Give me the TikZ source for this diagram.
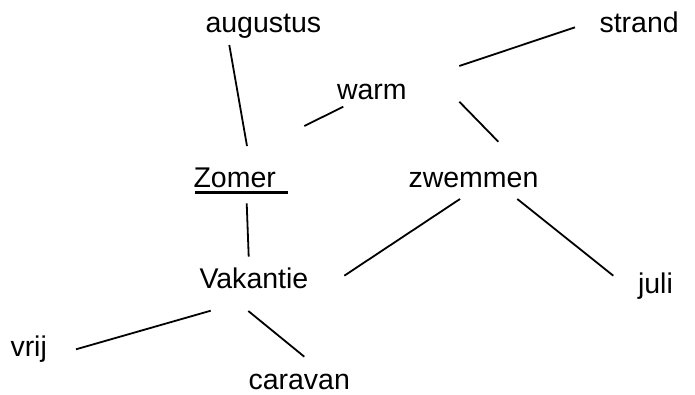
\documentclass[tikz,border=0pt]{standalone}
\usepackage{fontspec}
\setmainfont{Liberation Sans}
\begin{document}
\begin{tikzpicture}[x=1pt,y=-1pt,
  word/.style={anchor=base west,inner sep=0pt,outer sep=0pt,font=\fontsize{28.5}{34}\selectfont},
  link/.style={line width=1.8pt,black}]
\useasboundingbox (0,0) rectangle (695,394);
% words
\node[word] (augustus) at (205.5,32) {augustus};
\node[word] (strand)   at (599.5,32) {strand};
\node[word] (warm)     at (337,99) {warm};
\node[word] (zomer)    at (193.5,187.5) {Zomer};
\node[word] (zwemmen)  at (408.5,187) {zwemmen};
\node[word] (vakantie) at (199.5,288.3) {Vakantie};
\node[word] (juli)     at (638,293) {juli};
\node[word] (vrij)     at (10.5,356) {vrij};
\node[word] (caravan)  at (248.5,389.3) {caravan};
% underline of Zomer (with trailing space)
\draw[line width=2.6pt] ([yshift=-4.8pt]zomer.base west) ++(1.5,0) -- ++(93,0);
% connector end points
\coordinate (a1) at (229.3,45);   \coordinate (a2) at (247,146);
\coordinate (w1) at (304.3,126);  \coordinate (w2) at (343.3,106.7);
\coordinate (s1) at (459.3,66);   \coordinate (s2) at (575,27.3);
\coordinate (z1) at (459.3,101.7);\coordinate (z2) at (498.3,141.7);
\coordinate (v1) at (246.7,203.3);\coordinate (v2) at (248.7,256.7);
\coordinate (x1) at (460,199);    \coordinate (x2) at (344.3,275.7);
\coordinate (j1) at (517.3,199);  \coordinate (j2) at (613.3,275.7);
\coordinate (r1) at (210.7,310.7);\coordinate (r2) at (76,349.3);
\coordinate (c1) at (248.3,311);  \coordinate (c2) at (304.3,356.7);
% connectors
\draw[link] (a1) -- (a2); % augustus - Zomer
\draw[link] (w1) -- (w2); % Zomer - warm
\draw[link] (s1) -- (s2); % warm - strand
\draw[link] (z1) -- (z2); % warm - zwemmen
\draw[link] (v1) -- (v2); % Zomer - Vakantie
\draw[link] (x1) -- (x2); % zwemmen - Vakantie
\draw[link] (j1) -- (j2); % zwemmen - juli
\draw[link] (r1) -- (r2); % Vakantie - vrij
\draw[link] (c1) -- (c2); % Vakantie - caravan
\end{tikzpicture}
\end{document}
